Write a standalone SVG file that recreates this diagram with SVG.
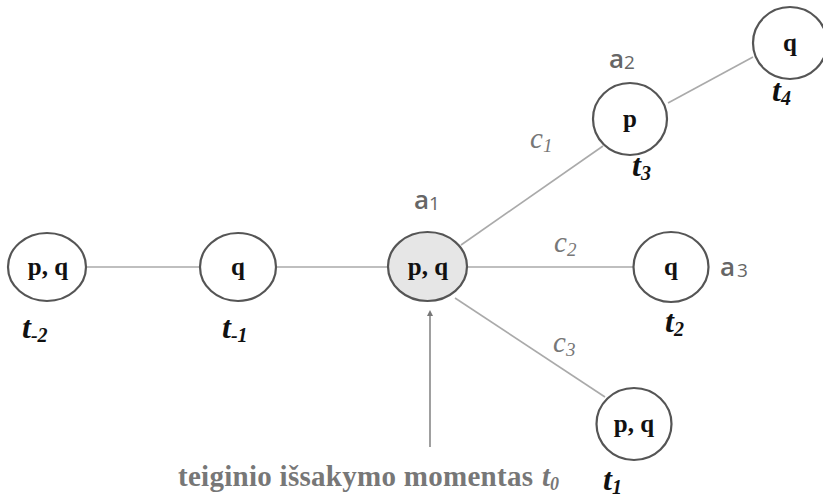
<svg xmlns="http://www.w3.org/2000/svg" width="823" height="498" viewBox="0 0 823 498">
<style>
.n{fill:#fff;stroke:#555;stroke-width:2.2}
.nt{font-family:"Liberation Serif",serif;font-weight:bold;font-size:25px;fill:#111;text-anchor:middle}
.t{font-family:"Liberation Serif",serif;font-weight:bold;font-style:italic;font-size:32px;fill:#111}
.ts{font-size:20px}
.a{font-family:"Open Sans","DejaVu Sans",sans-serif;font-weight:600;font-size:26px;fill:#666}
.as{font-size:19px;font-weight:normal}
.c{font-family:"Liberation Serif",serif;font-style:italic;font-size:29px;fill:#777}
.cs{font-size:19px}
.e{stroke:#aaa;stroke-width:1.6;fill:none}
.b{font-family:"Liberation Serif",serif;font-weight:bold;font-size:29px;fill:#777}
</style>
<defs>
<marker id="ah" markerWidth="6" markerHeight="6" refX="3" refY="3" orient="auto" markerUnits="userSpaceOnUse">
<path d="M0,0 L6,3 L0,6 z" fill="#777"/>
</marker>
</defs>
<g id="connectors">
<line class="e" x1="86" y1="267" x2="200" y2="267"/>
<line class="e" x1="276" y1="267" x2="388" y2="267"/>
<line class="e" x1="467" y1="267" x2="634" y2="267"/>
<line class="e" x1="461" y1="245" x2="603" y2="146"/>
<line class="e" x1="455" y1="298" x2="605" y2="397"/>
<line class="e" x1="668" y1="103" x2="753" y2="57"/>
<line x1="430" y1="447" x2="430" y2="313" stroke="#888" stroke-width="1.6" marker-end="url(#ah)"/>
</g>
<g id="n_tm2">
<ellipse class="n" cx="47" cy="267" rx="39" ry="34"/>
<text class="nt" x="48" y="275">p, q</text>
<text class="t" x="22" y="338">t<tspan class="ts" dy="4">-2</tspan></text>
</g>
<g id="n_tm1">
<ellipse class="n" cx="238" cy="267" rx="38" ry="34"/>
<text class="nt" x="238" y="275">q</text>
<text class="t" x="222" y="338">t<tspan class="ts" dy="4">-1</tspan></text>
</g>
<g id="n_a1">
<ellipse class="n" cx="427.5" cy="266.5" rx="39.5" ry="34.5" style="fill:#e6e6e6"/>
<text class="nt" x="428" y="275">p, q</text>
<text class="a" x="414" y="209">a<tspan class="as" dy="1">1</tspan></text>
</g>
<g id="n_t3">
<ellipse class="n" cx="630" cy="119" rx="37" ry="36"/>
<text class="nt" x="630" y="127">p</text>
<text class="a" x="609" y="68">a<tspan class="as" dy="1">2</tspan></text>
<text class="t" x="632" y="176">t<tspan class="ts" dy="4">3</tspan></text>
</g>
<g id="n_t4">
<ellipse class="n" cx="790" cy="43" rx="37" ry="36"/>
<text class="nt" x="790" y="51">q</text>
<text class="t" x="772" y="101">t<tspan class="ts" dy="4">4</tspan></text>
</g>
<g id="n_t2">
<ellipse class="n" cx="671" cy="267" rx="37.5" ry="35"/>
<text class="nt" x="671" y="275">q</text>
<text class="a" x="720" y="276">a<tspan class="as" dx="2" dy="1">3</tspan></text>
<text class="t" x="665" y="332">t<tspan class="ts" dy="4">2</tspan></text>
</g>
<g id="n_t1">
<ellipse class="n" cx="634" cy="424" rx="37.5" ry="36"/>
<text class="nt" x="634" y="432">p, q</text>
<text class="t" x="603" y="490">t<tspan class="ts" dy="4">1</tspan></text>
</g>
<g id="labels">
<text class="c" x="530" y="148">c<tspan class="cs" dy="4">1</tspan></text>
<text class="c" x="554" y="252">c<tspan class="cs" dy="4">2</tspan></text>
<text class="c" x="553" y="352">c<tspan class="cs" dy="4">3</tspan></text>
<text class="b" x="178" y="486" textLength="355" lengthAdjust="spacing">teiginio išsakymo momentas</text>
<text class="b" x="542" y="486" font-style="italic">t<tspan font-size="18" dy="4">0</tspan></text>
</g>
</svg>
